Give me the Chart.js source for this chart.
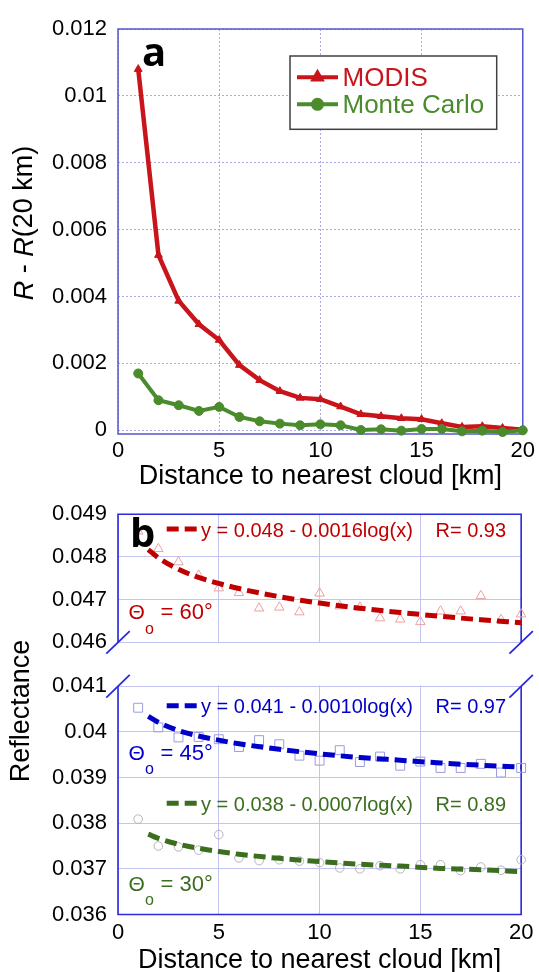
<!DOCTYPE html>
<html><head><meta charset="utf-8">
<script src="https://cdn.jsdelivr.net/npm/chart.js@4"></script>
<style>
html,body{margin:0;padding:0;background:#fff;}
#wrap{position:relative;width:539px;height:972px;overflow:hidden;background:#fff;}
#ca{position:absolute;left:0;top:0;}
#cb{position:absolute;left:0;top:490px;}
</style></head><body>
<div id="wrap"><canvas id="ca" width="539" height="490"></canvas><canvas id="cb" width="539" height="482"></canvas></div>
<script>
// ---------- data ----------
const distance = [1,2,3,4,5,6,7,8,9,10,11,12,13,14,15,16,17,18,19,20];
const modis = [0.0108,0.00524,0.00387,0.00317,0.00270,0.00195,0.00150,0.00117,0.00097,0.00093,0.00071,0.00048,0.00042,0.00036,0.00033,0.00021,0.00010,0.00012,0.00007,0.00002];
const monteCarlo = [0.00170,0.00090,0.00075,0.00058,0.00070,0.00040,0.00027,0.00020,0.00015,0.00018,0.00015,0.00001,0.00003,-0.00001,0.00004,0.00004,-0.00003,-0.00001,-0.00005,0.00000];
const refl60 = [0.0486,0.04819,0.04788,0.04757,0.04727,0.04716,0.04680,0.04682,0.04671,0.04715,0.04685,0.04682,0.04657,0.04654,0.04648,0.04673,0.04673,0.04709,0.04653,0.04666];
const refl45 = [0.04053,0.04010,0.03988,0.03989,0.03984,0.03967,0.03982,0.03973,0.03948,0.03937,0.03960,0.03934,0.03946,0.03926,0.03935,0.03921,0.03921,0.03930,0.03911,0.03921];
const refl30 = [0.03809,0.03750,0.03748,0.03741,0.03775,0.03724,0.03718,0.03720,0.03717,0.03714,0.03702,0.03700,0.03707,0.03700,0.03709,0.03709,0.03696,0.03704,0.03697,0.03720];
const fitX  = [1.5,2,3,4,5,6,8,10,12,14,16,18,20];
const fit60 = [0.04817,0.04798,0.04771,0.04752,0.04738,0.04726,0.04707,0.04692,0.04680,0.04670,0.04661,0.04653,0.04646];
const fit45 = [0.04034,0.04021,0.04003,0.03991,0.03982,0.03974,0.03962,0.03952,0.03944,0.03938,0.03932,0.03927,0.03923];
const fit30 = [0.03776,0.03767,0.03754,0.03745,0.03738,0.03732,0.03723,0.03716,0.03710,0.03706,0.03701,0.03698,0.03694];
const xTicks = [0,5,10,15,20];
const yTicksA = [0,0.002,0.004,0.006,0.008,0.01,0.012];
const yTicksTop = [0.046,0.047,0.048,0.049];
const yTicksBot = [0.036,0.037,0.038,0.039,0.04,0.041];
const seriesNames = ['MODIS','Monte Carlo'];
const fitLabels = ['y = 0.048 - 0.0016log(x)','y = 0.041 - 0.0010log(x)','y = 0.038 - 0.0007log(x)'];
const fitR = ['R= 0.93','R= 0.97','R= 0.89'];
const angles = ['60','45','30'];

// ---------- styles ----------
const FONT = '"Liberation Sans", Arial, sans-serif';
Chart.defaults.font.family = FONT;
const RED = '#c8141a', GREEN = '#4a8b2c';
const RED_B = '#c00000', BLUE_B = '#0000c8', GREEN_B = '#3c6e20';
const BOX_A = '#5555cc', BOX_B = '#2a2ae0';
const pts = (xs, ys) => xs.map((x, i) => ({x: x, y: ys[i]}));
const fmt = v => String(parseFloat(Number(v).toFixed(5)));
const setTicks = arr => s => { s.ticks = arr.map(v => ({value: v})); };
const OY = 490;

// ---------- panel a ----------
const panelA = {
  id: 'panelA',
  beforeDatasetsDraw(chart) {
    const {ctx, chartArea: a} = chart;
    ctx.save();
    ctx.strokeStyle = BOX_A; ctx.lineWidth = 1.5;
    ctx.strokeRect(a.left, a.top, a.right - a.left, a.bottom - a.top);
    ctx.restore();
  },
  afterDraw(chart) {
    const ctx = chart.ctx;
    ctx.save();
    // legend
    ctx.fillStyle = '#fff';
    ctx.fillRect(290, 56, 206.7, 73.3);
    ctx.strokeStyle = '#404040'; ctx.lineWidth = 1.5;
    ctx.strokeRect(290, 56, 206.7, 73.3);
    const rows = [[RED, 77.3, 'triangle'], [GREEN, 104.3, 'circle']];
    rows.forEach((r, i) => {
      ctx.strokeStyle = r[0]; ctx.fillStyle = r[0]; ctx.lineWidth = 4;
      ctx.beginPath(); ctx.moveTo(297, r[1]); ctx.lineTo(338, r[1]); ctx.stroke();
      Chart.helpers.drawPoint(ctx, {pointStyle: r[2], radius: 4.5, borderWidth: 1}, 317.5, r[1]);
      ctx.font = '26px ' + FONT; ctx.textBaseline = 'middle'; ctx.textAlign = 'left';
      ctx.fillText(seriesNames[i], 342.5, r[1] + 2);
    });
    // panel letter
    ctx.fillStyle = '#000';
    ctx.font = 'bold 40px "Open Sans", sans-serif'; ctx.textBaseline = 'alphabetic';
    ctx.fillText('a', 142, 66);
    // x title
    ctx.font = '27px ' + FONT; ctx.textAlign = 'center'; ctx.textBaseline = 'middle';
    ctx.fillText('Distance to nearest cloud [km]', (chart.chartArea.left + chart.chartArea.right) / 2, 477);
    // y title with italics
    const segs = [['R', true], [' - ', false], ['R', true], ['(20 km)', false]];
    let total = 0;
    segs.forEach(s => { ctx.font = (s[1] ? 'italic ' : '') + '27px ' + FONT; total += ctx.measureText(s[0]).width; });
    ctx.translate(25, 223); ctx.rotate(-Math.PI / 2);
    ctx.textAlign = 'left';
    let x = -total / 2;
    segs.forEach(s => { ctx.font = (s[1] ? 'italic ' : '') + '27px ' + FONT; ctx.fillText(s[0], x, 0); x += ctx.measureText(s[0]).width; });
    ctx.restore();
  }
};

new Chart(document.getElementById('ca'), {
  type: 'line',
  data: {datasets: [
    {label: seriesNames[1], data: pts(distance, monteCarlo), borderColor: GREEN, backgroundColor: GREEN, borderWidth: 4, pointStyle: 'circle', pointRadius: 4.5, pointBorderWidth: 1, clip: false},
    {label: seriesNames[0], data: pts(distance, modis), borderColor: RED, backgroundColor: RED, borderWidth: 4.5, pointStyle: 'triangle', pointRadius: 4.5, pointBorderWidth: 1, clip: false}
  ]},
  options: {
    responsive: false, animation: false, devicePixelRatio: 1, events: [],
    layout: {padding: {top: 29, right: 14.5, left: 0, bottom: 0}},
    plugins: {legend: {display: false}, tooltip: {enabled: false}},
    scales: {
      x: {type: 'linear', min: 0, max: 20, afterBuildTicks: setTicks(xTicks), afterFit: s => { s.height = 56; },
          ticks: {padding: 4, font: {size: 22}, color: '#000', maxRotation: 0, autoSkip: false, callback: fmt},
          grid: {color: '#a9a9e3', lineWidth: 1, drawTicks: false}, border: {display: false, dash: [2, 2]}},
      y: {type: 'linear', min: -0.00011, max: 0.012, afterBuildTicks: setTicks(yTicksA), afterFit: s => { s.width = 118; },
          ticks: {padding: 11, font: {size: 22}, color: '#000', autoSkip: false, callback: fmt},
          grid: {color: '#a9a9e3', lineWidth: 1, drawTicks: false}, border: {display: false, dash: [2, 2]}}
    }
  },
  plugins: [panelA]
});

// ---------- panel b ----------
const panelB = {
  id: 'panelB',
  beforeDatasetsDraw(chart) {
    const {ctx, chartArea: a} = chart;
    const g = chart.scales.yGap;
    ctx.save();
    ctx.fillStyle = '#fff';
    ctx.fillRect(a.left - 3, g.top + 0.8, a.right - a.left + 6, g.bottom - g.top - 1.6);
    ctx.strokeStyle = BOX_B; ctx.lineWidth = 1.6;
    ctx.beginPath();
    ctx.moveTo(a.left, g.top); ctx.lineTo(a.left, a.top); ctx.lineTo(a.right, a.top); ctx.lineTo(a.right, g.top);
    ctx.moveTo(a.left, g.bottom); ctx.lineTo(a.left, a.bottom); ctx.lineTo(a.right, a.bottom); ctx.lineTo(a.right, g.bottom);
    ctx.stroke();
    ctx.lineWidth = 1.8;
    ctx.beginPath();
    [a.left, a.right].forEach(x => {
      [g.top, g.bottom].forEach(y => { ctx.moveTo(x - 11.7, y + 11.3); ctx.lineTo(x + 11.7, y - 11.3); });
    });
    ctx.stroke();
    ctx.restore();
  },
  afterDraw(chart) {
    const ctx = chart.ctx;
    ctx.save();
    ctx.fillStyle = '#000';
    ctx.font = 'bold 40px "Open Sans", sans-serif'; ctx.textBaseline = 'alphabetic'; ctx.textAlign = 'left';
    ctx.fillText('b', 130, 546.7 - OY);
    const rows = [[RED_B, 530], [BLUE_B, 706.7], [GREEN_B, 804.3]];
    rows.forEach((r, i) => {
      const y = r[1] - OY;
      ctx.strokeStyle = r[0]; ctx.fillStyle = r[0]; ctx.lineWidth = 5;
      ctx.setLineDash([12, 6]);
      ctx.beginPath(); ctx.moveTo(166.7, y - 1); ctx.lineTo(196.7, y - 1); ctx.stroke();
      ctx.setLineDash([]);
      ctx.font = '20px ' + FONT; ctx.textBaseline = 'middle'; ctx.textAlign = 'left';
      ctx.fillText(fitLabels[i], 201, y + 1);
      ctx.fillText(fitR[i], 435.5, y + 1);
    });
    const th = [[RED_B, 613.3], [BLUE_B, 754], [GREEN_B, 885]];
    th.forEach((t, i) => {
      const y = t[1] - OY;
      ctx.fillStyle = t[0]; ctx.textBaseline = 'middle'; ctx.textAlign = 'left';
      ctx.font = '21px ' + FONT; ctx.fillText('\u0398', 128.5, y);
      ctx.font = '16px ' + FONT; ctx.fillText('o', 145, y + 16);
      ctx.font = '22px ' + FONT; ctx.fillText('= ' + angles[i] + '\u00B0', 160.5, y);
    });
    ctx.fillStyle = '#000';
    ctx.font = '27px ' + FONT; ctx.textAlign = 'center'; ctx.textBaseline = 'middle';
    ctx.fillText('Distance to nearest cloud [km]', (chart.chartArea.left + chart.chartArea.right) / 2, 961 - OY);
    ctx.translate(21.5, 711 - OY); ctx.rotate(-Math.PI / 2);
    ctx.fillText('Reflectance', 0, 0);
    ctx.restore();
  }
};

const gridB = {color: '#c4c4f2', lineWidth: 1, drawTicks: false};
const tickB = {padding: 11, font: {size: 22}, color: '#000', autoSkip: false, callback: fmt};
const fitStyle = {borderWidth: 5, borderDash: [12, 6], pointRadius: 0, cubicInterpolationMode: 'monotone', fill: false, clip: false};
const markStyle = {showLine: false, backgroundColor: 'rgba(0,0,0,0)', pointBorderWidth: 1, clip: false};

new Chart(document.getElementById('cb'), {
  type: 'line',
  data: {datasets: [
    Object.assign({label: 'fit60', data: pts(fitX, fit60), borderColor: RED_B, yAxisID: 'yTop'}, fitStyle),
    Object.assign({label: 'fit45', data: pts(fitX, fit45), borderColor: BLUE_B, yAxisID: 'yBot'}, fitStyle),
    Object.assign({label: 'fit30', data: pts(fitX, fit30), borderColor: GREEN_B, yAxisID: 'yBot'}, fitStyle),
    Object.assign({label: '60', data: pts(distance, refl60), borderColor: '#eba0a0', pointStyle: 'triangle', pointRadius: 5.5, yAxisID: 'yTop'}, markStyle),
    Object.assign({label: '45', data: pts(distance, refl45), borderColor: '#9a9ae0', pointStyle: 'rect', pointRadius: 6.3, yAxisID: 'yBot'}, markStyle),
    Object.assign({label: '30', data: pts(distance, refl30), borderColor: '#b4b4b4', pointStyle: 'circle', pointRadius: 4.3, yAxisID: 'yBot'}, markStyle)
  ]},
  options: {
    responsive: false, animation: false, devicePixelRatio: 1, events: [],
    layout: {padding: {top: 16.7, right: 14.5, left: 0, bottom: 0}},
    plugins: {legend: {display: false}, tooltip: {enabled: false}},
    scales: {
      x: {type: 'linear', min: 0, max: 20, afterBuildTicks: setTicks(xTicks), afterFit: s => { s.height = 57.5; },
          ticks: {padding: 5.6, font: {size: 22}, color: '#000', maxRotation: 0, autoSkip: false, callback: fmt},
          grid: gridB, border: {display: false}},
      yTop: {type: 'linear', position: 'left', stack: 'b', stackWeight: 130.6, weight: 3, min: 0.046, max: 0.049,
          afterBuildTicks: setTicks(yTicksTop), afterFit: s => { s.width = 118; }, ticks: tickB, grid: gridB, border: {display: false}},
      yGap: {type: 'linear', position: 'left', stack: 'b', stackWeight: 44.7, weight: 2, min: 0, max: 1,
          afterFit: s => { s.width = 118; }, ticks: {display: false}, grid: {display: false, drawTicks: false}, border: {display: false}},
      yBot: {type: 'linear', position: 'left', stack: 'b', stackWeight: 232.5, weight: 1, min: 0.036, max: 0.041,
          afterBuildTicks: setTicks(yTicksBot), afterFit: s => { s.width = 118; }, ticks: tickB, grid: gridB, border: {display: false}}
    }
  },
  plugins: [panelB]
});
</script>
</body></html>
